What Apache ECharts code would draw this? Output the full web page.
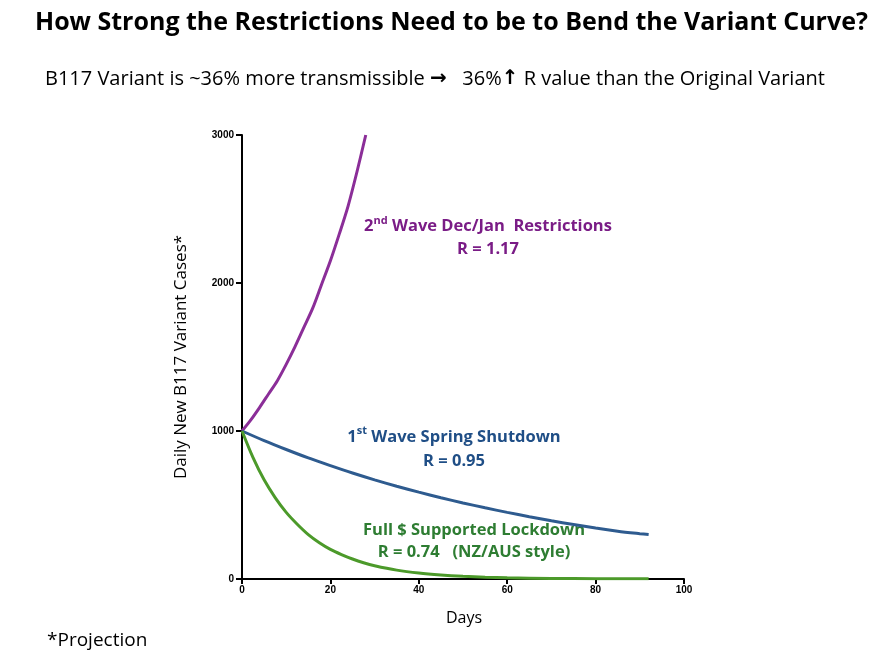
<!DOCTYPE html>
<html>
<head>
<meta charset="utf-8">
<script src="https://cdn.jsdelivr.net/npm/echarts@6/dist/echarts.min.js"></script>
<style>html,body{margin:0;padding:0;background:#fff}#c{width:886px;height:660px}</style>
</head>
<body>
<div id="c"></div>
<script>
const xTicks = [0, 20, 40, 60, 80, 100];
const yTicks = [0, 1000, 2000, 3000];
const secondWaveDays = [0, 2, 4, 6, 8, 10, 12, 14, 16, 18, 20, 22, 24, 26, 28];
const secondWaveCases = [1000, 1075, 1160, 1250, 1340, 1450, 1570, 1700, 1830, 1990, 2150, 2330, 2520, 2750, 3000];
const firstWaveDays = [0, 5, 10, 15, 20, 25, 30, 35, 40, 45, 50, 55, 60, 65, 70, 75, 80, 85, 90, 92];
const firstWaveCases = [1000, 935, 875, 818, 766, 716, 670, 627, 587, 549, 514, 481, 450, 421, 393, 368, 344, 323, 306, 300];
const lockdownDays = [0, 2.5, 5, 7.5, 10, 12.5, 15, 17.5, 20, 22.5, 25, 27.5, 30, 35, 40, 45, 50, 55, 60, 70, 80, 92];
const lockdownCases = [1000, 820, 670, 550, 450, 370, 300, 245, 200, 165, 135, 110, 90, 60, 40, 27, 18, 12, 8, 4, 2, 1];

const pair = (xs, ys) => xs.map((x, i) => [x, ys[i]]);
const font = '"Open Sans", "Noto Sans", sans-serif';
const tickFont = 'Arial, "Liberation Sans", sans-serif';

const chart = echarts.init(document.getElementById('c'));
chart.setOption({
  animation: false,
  backgroundColor: '#fff',
  grid: { left: 242, right: 202, top: 135, bottom: 81 },
  xAxis: {
    type: 'value', min: 0, max: 100, interval: 20,
    axisLine: { show: true, lineStyle: { color: '#000', width: 2 } },
    axisTick: { show: true, length: 5, lineStyle: { color: '#000', width: 2 } },
    axisLabel: { color: '#000', fontWeight: 'bold', fontSize: 10, fontFamily: tickFont, margin: 6, formatter: v => String(v) },
    splitLine: { show: false }
  },
  yAxis: {
    type: 'value', min: 0, max: 3000, interval: 1000,
    axisLine: { show: true, lineStyle: { color: '#000', width: 2 } },
    axisTick: { show: true, length: 6, lineStyle: { color: '#000', width: 2 } },
    axisLabel: { color: '#000', fontWeight: 'bold', fontSize: 10, fontFamily: tickFont, margin: 8, formatter: v => String(v) },
    splitLine: { show: false }
  },
  series: [
    { type: 'line', data: pair(secondWaveDays, secondWaveCases), smooth: 0.3, symbol: 'none', lineStyle: { color: '#8B2E98', width: 3 } },
    { type: 'line', data: pair(firstWaveDays, firstWaveCases), smooth: 0.3, symbol: 'none', lineStyle: { color: '#2E5B8F', width: 3 } },
    { type: 'line', data: pair(lockdownDays, lockdownCases), smooth: 0.3, symbol: 'none', lineStyle: { color: '#4C9A2A', width: 3 } }
  ],
  graphic: [
    { type: 'text', left: 35, top: 10, style: { text: 'How Strong the Restrictions Need to be to Bend the Variant Curve?', font: 'bold 25px ' + font, fill: '#000' } },
    { type: 'text', left: 45, top: 69, style: { text: '{t|B117 Variant is ~36% more transmissible }{a|\u2192}{t|   36%}{a|\u2191}{t| R value than the Original Variant}',
      rich: { t: { font: '20px ' + font, fill: '#000' }, a: { font: 'bold 20px "DejaVu Sans", sans-serif', fill: '#000' } } } },
    { type: 'text', left: 47, top: 631, style: { text: '*Projection', font: '19px ' + font, fill: '#000' } },
    { type: 'text', left: 446, top: 610, style: { text: 'Days', font: '16px ' + font, fill: '#000' } },
    { type: 'text', x: 181, y: 357, rotation: Math.PI / 2, style: { text: 'Daily New B117 Variant Cases*', font: '17px ' + font, fill: '#000', align: 'center', verticalAlign: 'middle' } },
    { type: 'text', x: 488, y: 238, style: { text: '{b|2}{s|nd}{b| Wave Dec/Jan  Restrictions}\n{b|R = 1.17}', align: 'center', verticalAlign: 'middle', fill: '#7A1C86',
      rich: { b: { font: 'bold 16.5px ' + font, fill: '#7A1C86', lineHeight: 23, align: 'center' }, s: { font: 'bold 11px ' + font, fill: '#7A1C86', verticalAlign: 'top', lineHeight: 23 } } } },
    { type: 'text', x: 454, y: 449, style: { text: '{b|1}{s|st}{b| Wave Spring Shutdown}\n{b|R = 0.95}', align: 'center', verticalAlign: 'middle', fill: '#1F4E86',
      rich: { b: { font: 'bold 16.5px ' + font, fill: '#1F4E86', lineHeight: 24, align: 'center' }, s: { font: 'bold 11px ' + font, fill: '#1F4E86', verticalAlign: 'top', lineHeight: 24 } } } },
    { type: 'text', x: 474, y: 541, style: { text: '{b|Full $ Supported Lockdown}\n{b|R = 0.74   (NZ/AUS style)}', align: 'center', verticalAlign: 'middle', fill: '#2E7D32',
      rich: { b: { font: 'bold 16.5px ' + font, fill: '#2E7D32', lineHeight: 22, align: 'center' } } } }
  ]
});
</script>
</body>
</html>
